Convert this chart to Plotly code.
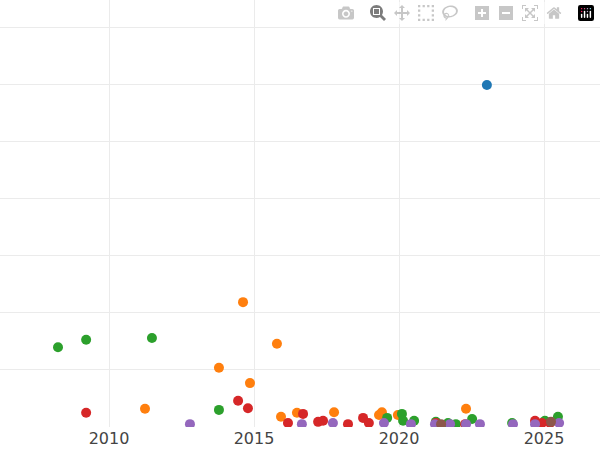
import plotly.graph_objects as go

# values (year, value)
green_x = [2008.24, 2009.21, 2011.48, 2013.79, 2019.59, 2020.10, 2020.14, 2020.52, 2021.27, 2021.69, 2021.96, 2022.52, 2023.90, 2025.48, 2025.03]
green_y = [1.40, 1.53, 1.56, 0.30, 0.16, 0.23, 0.11, 0.11, 0.09, 0.07, 0.05, 0.14, 0.07, 0.18, 0.11]
orange_x = [2014.62, 2015.79, 2013.79, 2014.86, 2011.24, 2015.93, 2016.48, 2017.76, 2019.31, 2019.41, 2019.96, 2022.31]
orange_y = [2.19, 1.46, 1.04, 0.77, 0.32, 0.18, 0.25, 0.26, 0.21, 0.26, 0.21, 0.32]
red_x = [2009.21, 2014.45, 2014.79, 2016.17, 2016.69, 2017.21, 2017.38, 2018.24, 2018.76, 2018.96, 2021.27, 2022.28, 2024.69, 2024.93, 2025.21]
red_y = [0.25, 0.46, 0.33, 0.07, 0.23, 0.09, 0.11, 0.05, 0.16, 0.07, 0.07, 0.05, 0.11, 0.07, 0.07]
purple_x = [2012.79, 2016.65, 2017.72, 2019.48, 2020.41, 2021.24, 2021.76, 2022.31, 2022.79, 2023.93, 2024.69, 2025.52]
purple_y = [0.05, 0.05, 0.07, 0.07, 0.05, 0.05, 0.05, 0.05, 0.05, 0.05, 0.05, 0.07]
brown_x = [2021.45, 2025.24]
brown_y = [0.05, 0.09]
blue_x = [2023.03]
blue_y = [6.0]

series = [
    (blue_x, blue_y, '#1f77b4'),
    (orange_x, orange_y, '#ff7f0e'),
    (green_x, green_y, '#2ca02c'),
    (red_x, red_y, '#d62728'),
    (purple_x, purple_y, '#9467bd'),
    (brown_x, brown_y, '#8c564b'),
]

fig = go.Figure()
for xs, ys, c in series:
    fig.add_trace(go.Scatter(x=xs, y=ys, mode='markers',
                             marker=dict(color=c, size=10), showlegend=False))

fig.update_layout(
    width=600, height=450,
    margin=dict(l=0, r=0, t=0, b=23),
    plot_bgcolor='white', paper_bgcolor='white',
    font=dict(family='DejaVu Sans', size=16, color='#444'),
    xaxis=dict(range=[2006.24, 2026.93], tickvals=[2010, 2015, 2020, 2025],
               showgrid=True, gridcolor='#ebebeb', zeroline=False),
    yaxis=dict(range=[0, 7.49], dtick=1, showticklabels=False,
               showgrid=True, gridcolor='#ebebeb', zeroline=False),
)

fig.write_html("out.html", post_script="document.body.style.margin='0';document.body.style.overflow='hidden';")
